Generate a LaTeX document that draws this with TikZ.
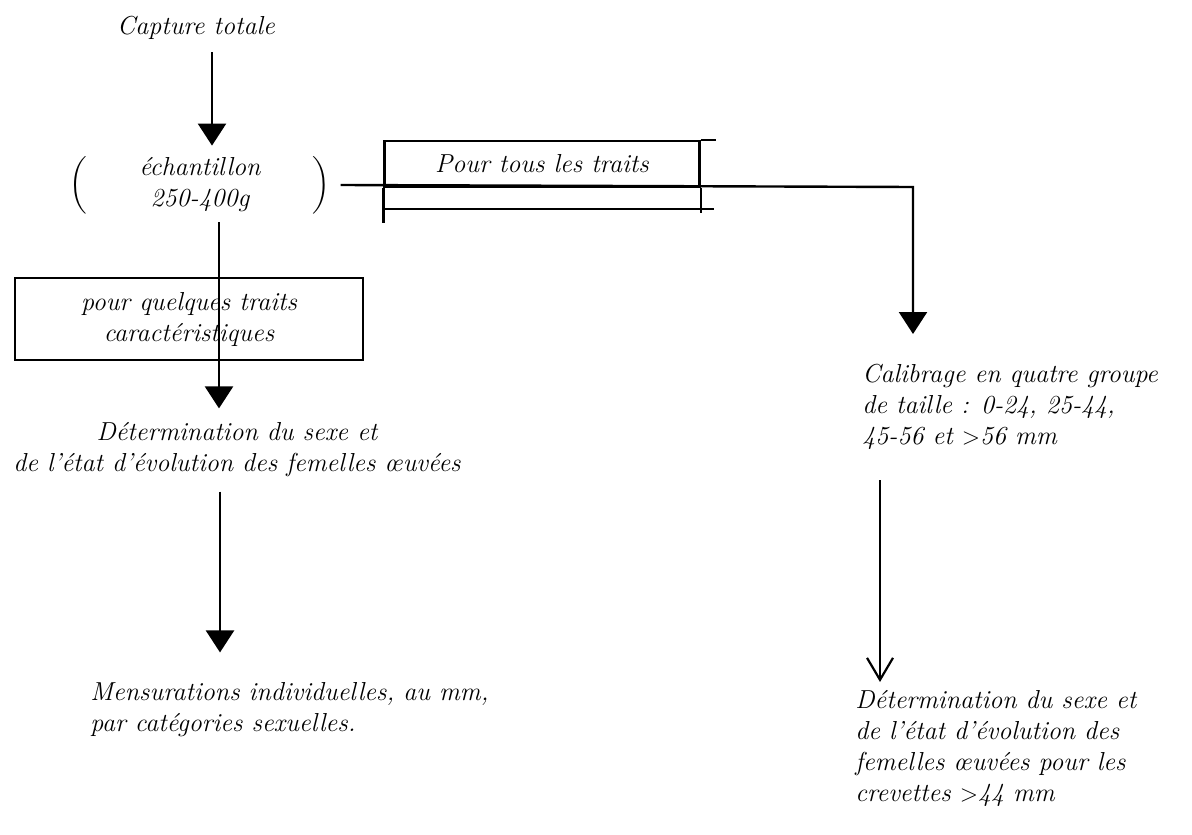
\documentclass[tikz,border=0pt]{standalone}
\usepackage{amsmath}
\usepackage{tikz}
\usetikzlibrary{arrows.meta,calc,positioning}
\tikzset{>=latex}
\tikzset{
  texte/.style={inner sep=0pt, font=\fontsize{13}{15.5}\selectfont\itshape},
  boite/.style={texte, draw, line width=1.1pt},
  fleche/.style={line width=1.2pt, -{Triangle[width=14pt,length=11pt]}},
  flecheV/.style={line width=1.1pt, -{Straight Barb[width=13pt,length=11pt]}}
}

\begin{document}
\begin{tikzpicture}[x=0.5pt,y=-0.5pt]
  \useasboundingbox (0,0) rectangle (1192,834);

  % colonne de gauche
  \node[texte] (cap) at (196,28) {Capture totale};
  \node[texte] (ech) at (200,185)
    {$\left(\qquad\begin{tabular}{@{}c@{}}\itshape échantillon\\ \itshape 250-400g\end{tabular}\qquad\right)$};
  \node[boite, minimum width=174pt, minimum height=41pt, align=center] (quelques) at (189,319)
    {pour quelques traits\\caractéristiques};
  \node[texte, align=center] (detA) at (237,450)
    {Détermination du sexe et\\de l'état d'évolution des femelles œuvées};
  \node[texte, align=left, anchor=west] (mens) at (90,710)
    {Mensurations individuelles, au mm,\\par catégories sexuelles.};

  % colonne de droite
  \node[texte, align=left, anchor=north west] (calib) at (862,364)
    {Calibrage en quatre groupe\\de taille : 0-24, 25-44,\\45-56 et $>$56 mm};
  \node[texte, align=left, anchor=north west] (detB) at (855,690)
    {Détermination du sexe et\\de l'état d'évolution des\\femelles œuvées pour les\\crevettes $>$44 mm};

  % tableau "pour tous les traits"
  \node[boite, minimum width=157.5pt, minimum height=23pt] (tous) at (542,164) {Pour tous les traits};
  \draw[line width=1.1pt] (tous.north east) -- ++(15,0);
  \draw[line width=1.1pt] (tous.south west) -- ++(0,35);
  \draw[line width=1.1pt] (tous.south east) -- ++(0,25);
  \draw[line width=1.1pt] ($(tous.south west)+(0,21)$) -- ($(tous.south east)+(13,21)$);

  % axes des fleches
  \coordinate (axeA) at (212,0);
  \coordinate (axeB) at (219,0);
  \coordinate (axeC) at (220,0);
  \coordinate (axeD) at (880,0);
  \coordinate (coude) at (913,187);

  \draw[fleche] ($(cap.south -| axeA)+(0,12)$) -- ($(ech.north -| axeA)+(0,-8)$);
  \draw[fleche] ($(ech.south -| axeB)+(0,6)$) -- ($(detA.north -| axeB)+(0,-14)$);
  \draw[fleche] ($(detA.south -| axeC)+(0,14)$) -- ($(mens.north -| axeC)+(0,-30)$);
  \draw[fleche] ($(ech.east)+(10,0)$) -- (coude) -- ($(calib.north -| coude)+(0,-30)$);
  \draw[flecheV] ($(calib.south -| axeD)+(0,30)$) -- ($(detB.north -| axeD)+(0,-8)$);
\end{tikzpicture}
\end{document}
